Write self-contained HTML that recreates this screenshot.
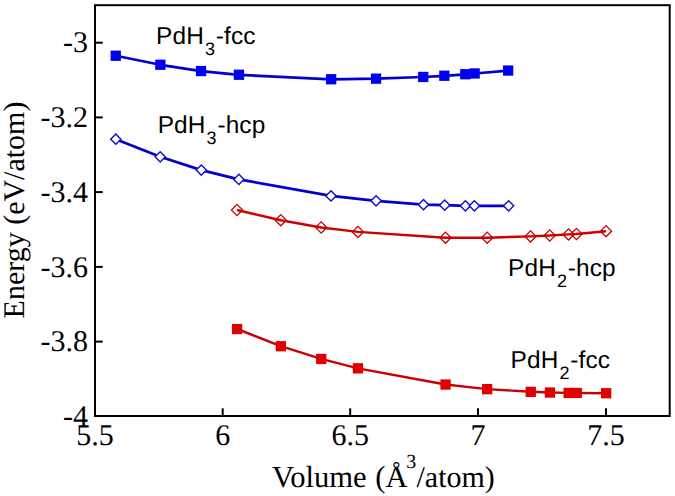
<!DOCTYPE html>
<html><head><meta charset="utf-8"><style>
html,body{margin:0;padding:0;background:#fff;width:675px;height:496px;overflow:hidden}
svg{display:block} text{text-rendering:geometricPrecision}

</style></head><body>
<svg width="675" height="496" viewBox="0 0 675 496">
<rect width="675" height="496" fill="#fff"/>
<g font-family="'Liberation Serif', serif" font-size="30" fill="#000">
<text x="95" y="444.7" text-anchor="middle">5.5</text><text x="222.7" y="444.7" text-anchor="middle">6</text><text x="350.2" y="444.7" text-anchor="middle">6.5</text><text x="478.0" y="444.7" text-anchor="middle">7</text><text x="606" y="444.7" text-anchor="middle">7.5</text>
<text x="88" y="52.3" text-anchor="end">-3</text><text x="88" y="127.0" text-anchor="end">-3.2</text><text x="88" y="201.7" text-anchor="end">-3.4</text><text x="88" y="276.5" text-anchor="end">-3.6</text><text x="88" y="351.2" text-anchor="end">-3.8</text><text x="88" y="425.6" text-anchor="end">-4</text>
<text x="272" y="486.6" font-size="30.6" word-spacing="1">Volume (Å</text>
<text x="406.3" y="468" font-size="20">3</text>
<text x="416.5" y="486.6">/atom)</text>
<text transform="translate(24,210) rotate(-90)" text-anchor="middle">Energy (eV/atom)</text>
</g>
<g stroke="#000" stroke-width="2" fill="none">
<rect x="95" y="5.2" width="574.7" height="410.8"/>
<line x1="95" y1="416" x2="95" y2="408.3"/><line x1="222.7" y1="416" x2="222.7" y2="408.3"/><line x1="350.2" y1="416" x2="350.2" y2="408.3"/><line x1="478.0" y1="416" x2="478.0" y2="408.3"/><line x1="606" y1="416" x2="606" y2="408.3"/><line x1="95" y1="42.7" x2="102.7" y2="42.7"/><line x1="95" y1="117.4" x2="102.7" y2="117.4"/><line x1="95" y1="192.1" x2="102.7" y2="192.1"/><line x1="95" y1="266.9" x2="102.7" y2="266.9"/><line x1="95" y1="341.6" x2="102.7" y2="341.6"/><line x1="95" y1="416" x2="102.7" y2="416"/>
</g>
<polyline points="115.80,55.70 160.30,64.80 201.10,71.10 238.90,74.80 331.10,79.30 376.00,78.70 423.20,77.00 444.40,75.80 465.40,74.30 474.60,73.50 508.10,70.60" fill="none" stroke="#0000d0" stroke-width="2.7" stroke-linejoin="round"/>
<rect x="110.6" y="50.6" width="10.3" height="10.3" fill="#0000f0"/><rect x="155.2" y="59.6" width="10.3" height="10.3" fill="#0000f0"/><rect x="195.9" y="65.9" width="10.3" height="10.3" fill="#0000f0"/><rect x="233.8" y="69.6" width="10.3" height="10.3" fill="#0000f0"/><rect x="326.0" y="74.1" width="10.3" height="10.3" fill="#0000f0"/><rect x="370.9" y="73.5" width="10.3" height="10.3" fill="#0000f0"/><rect x="418.1" y="71.8" width="10.3" height="10.3" fill="#0000f0"/><rect x="439.2" y="70.6" width="10.3" height="10.3" fill="#0000f0"/><rect x="460.2" y="69.1" width="10.3" height="10.3" fill="#0000f0"/><rect x="469.5" y="68.3" width="10.3" height="10.3" fill="#0000f0"/><rect x="503.0" y="65.4" width="10.3" height="10.3" fill="#0000f0"/>
<polyline points="115.80,139.20 160.20,156.80 201.30,170.10 238.90,179.40 331.00,195.90 376.10,200.80 423.50,204.70 444.70,205.20 465.40,205.80 474.40,205.80 508.60,205.80" fill="none" stroke="#0000d0" stroke-width="2.7" stroke-linejoin="round"/>
<path d="M115.8 134.1L120.9 139.2L115.8 144.3L110.7 139.2Z" fill="#fff" stroke="#1410c8" stroke-width="1.45"/><path d="M160.2 151.7L165.3 156.8L160.2 161.9L155.1 156.8Z" fill="#fff" stroke="#1410c8" stroke-width="1.45"/><path d="M201.3 165.0L206.4 170.1L201.3 175.2L196.2 170.1Z" fill="#fff" stroke="#1410c8" stroke-width="1.45"/><path d="M238.9 174.3L244.0 179.4L238.9 184.5L233.8 179.4Z" fill="#fff" stroke="#1410c8" stroke-width="1.45"/><path d="M331.0 190.8L336.1 195.9L331.0 201.0L325.9 195.9Z" fill="#fff" stroke="#1410c8" stroke-width="1.45"/><path d="M376.1 195.7L381.2 200.8L376.1 205.9L371.0 200.8Z" fill="#fff" stroke="#1410c8" stroke-width="1.45"/><path d="M423.5 199.6L428.6 204.7L423.5 209.8L418.4 204.7Z" fill="#fff" stroke="#1410c8" stroke-width="1.45"/><path d="M444.7 200.1L449.8 205.2L444.7 210.3L439.6 205.2Z" fill="#fff" stroke="#1410c8" stroke-width="1.45"/><path d="M465.4 200.7L470.5 205.8L465.4 210.9L460.3 205.8Z" fill="#fff" stroke="#1410c8" stroke-width="1.45"/><path d="M474.4 200.7L479.5 205.8L474.4 210.9L469.3 205.8Z" fill="#fff" stroke="#1410c8" stroke-width="1.45"/><path d="M508.6 200.7L513.7 205.8L508.6 210.9L503.5 205.8Z" fill="#fff" stroke="#1410c8" stroke-width="1.45"/>
<polyline points="237.00,210.00 280.80,220.20 321.20,227.50 357.90,231.90 445.50,237.70 487.20,237.70 530.50,236.40 549.70,235.50 568.50,234.40 576.50,234.00 606.00,231.20" fill="none" stroke="#cc0000" stroke-width="2.45" stroke-linejoin="round"/>
<path d="M237.0 204.4L242.6 210.0L237.0 215.6L231.4 210.0Z" fill="none" stroke="#cc0000" stroke-width="1.3"/><path d="M280.8 214.6L286.4 220.2L280.8 225.8L275.2 220.2Z" fill="none" stroke="#cc0000" stroke-width="1.3"/><path d="M321.2 221.9L326.8 227.5L321.2 233.1L315.6 227.5Z" fill="none" stroke="#cc0000" stroke-width="1.3"/><path d="M357.9 226.3L363.5 231.9L357.9 237.5L352.3 231.9Z" fill="none" stroke="#cc0000" stroke-width="1.3"/><path d="M445.5 232.1L451.1 237.7L445.5 243.3L439.9 237.7Z" fill="none" stroke="#cc0000" stroke-width="1.3"/><path d="M487.2 232.1L492.8 237.7L487.2 243.3L481.6 237.7Z" fill="none" stroke="#cc0000" stroke-width="1.3"/><path d="M530.5 230.8L536.1 236.4L530.5 242.0L524.9 236.4Z" fill="none" stroke="#cc0000" stroke-width="1.3"/><path d="M549.7 229.9L555.3 235.5L549.7 241.1L544.1 235.5Z" fill="none" stroke="#cc0000" stroke-width="1.3"/><path d="M568.5 228.8L574.1 234.4L568.5 240.0L562.9 234.4Z" fill="none" stroke="#cc0000" stroke-width="1.3"/><path d="M576.5 228.4L582.1 234.0L576.5 239.6L570.9 234.0Z" fill="none" stroke="#cc0000" stroke-width="1.3"/><path d="M606.0 225.6L611.6 231.2L606.0 236.8L600.4 231.2Z" fill="none" stroke="#cc0000" stroke-width="1.3"/>
<polyline points="237.10,329.00 280.80,346.20 321.20,358.90 357.90,368.40 445.50,384.50 487.10,389.10 530.70,391.80 549.90,392.50 568.60,392.90 576.80,392.90 606.10,393.20" fill="none" stroke="#cc0000" stroke-width="2.45" stroke-linejoin="round"/>
<rect x="231.9" y="323.9" width="10.3" height="10.3" fill="#e00000"/><rect x="275.7" y="341.1" width="10.3" height="10.3" fill="#e00000"/><rect x="316.1" y="353.8" width="10.3" height="10.3" fill="#e00000"/><rect x="352.8" y="363.2" width="10.3" height="10.3" fill="#e00000"/><rect x="440.4" y="379.4" width="10.3" height="10.3" fill="#e00000"/><rect x="482.0" y="384.0" width="10.3" height="10.3" fill="#e00000"/><rect x="525.6" y="386.7" width="10.3" height="10.3" fill="#e00000"/><rect x="544.8" y="387.4" width="10.3" height="10.3" fill="#e00000"/><rect x="563.5" y="387.8" width="10.3" height="10.3" fill="#e00000"/><rect x="571.6" y="387.8" width="10.3" height="10.3" fill="#e00000"/><rect x="601.0" y="388.1" width="10.3" height="10.3" fill="#e00000"/>
<g font-family="'Liberation Sans', sans-serif" font-size="24.4" letter-spacing="0.15" fill="#000">
<text x="156.1" y="44.4">PdH<tspan dx="1" dy="10.7" font-size="18">3</tspan><tspan dx="0.6" dy="-10.7">-fcc</tspan></text>
<text x="157.7" y="133.1">PdH<tspan dx="1" dy="10.7" font-size="18">3</tspan><tspan dx="0.6" dy="-10.7">-hcp</tspan></text>
<text x="508.1" y="276">PdH<tspan dx="1" dy="10.7" font-size="18">2</tspan><tspan dx="0.6" dy="-10.7">-hcp</tspan></text>
<text x="510.6" y="368.4">PdH<tspan dx="1" dy="10.7" font-size="18">2</tspan><tspan dx="0.6" dy="-10.7">-fcc</tspan></text>
</g>
</svg>
</body></html>
